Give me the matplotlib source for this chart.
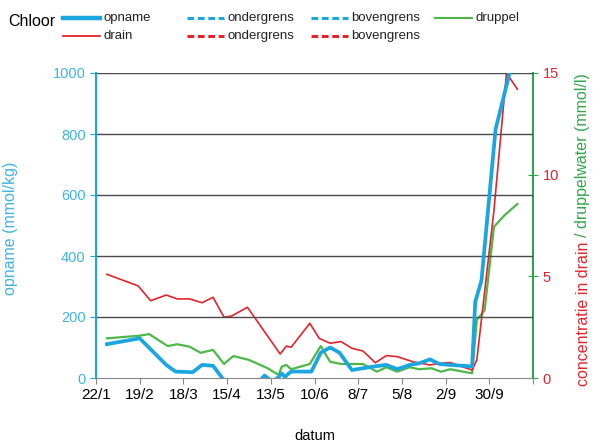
import matplotlib

matplotlib.use("Agg")
import matplotlib.pyplot as plt
import pandas as pd
from matplotlib.lines import Line2D

plt.rcParams["font.family"] = ["Liberation Sans", "DejaVu Sans"]

BLUE = "#1ca6e0"
BLUE_TEXT = "#3fb4e2"
RED = "#e3242b"
GREEN = "#4cb848"
GREEN_AXIS = "#2ea64a"
GRID = "#4a4a4a"

# opname (mmol/kg), left axis
opname_dates = [
    "2016-01-29", "2016-02-19", "2016-03-07", "2016-03-13", "2016-03-24", "2016-03-30",
    "2016-04-06", "2016-04-20", "2016-05-04", "2016-05-09", "2016-05-14", "2016-05-18",
    "2016-05-20", "2016-05-22", "2016-05-26", "2016-06-08", "2016-06-14", "2016-06-20",
    "2016-06-26", "2016-07-04", "2016-07-11", "2016-07-20", "2016-07-26", "2016-08-02",
    "2016-08-10", "2016-08-16", "2016-08-23", "2016-08-29", "2016-09-05", "2016-09-19",
    "2016-09-21", "2016-09-25", "2016-10-04", "2016-10-13",
]
opname = [
    111, 130, 43, 21, 19, 43,
    40, -55, -20, 8, -12, 3,
    15, 4, 21, 21, 83, 100,
    83, 26, 32, 39, 43, 29,
    43, 48, 61, 46, 43, 38,
    250, 320, 815, 1000,
]

# drain (mmol/l), right axis
drain_dates = [
    "2016-01-29", "2016-02-18", "2016-02-26", "2016-03-07", "2016-03-14", "2016-03-22",
    "2016-03-30", "2016-04-06", "2016-04-13", "2016-04-18", "2016-04-28", "2016-05-19",
    "2016-05-23", "2016-05-26", "2016-06-07", "2016-06-13", "2016-06-20", "2016-06-27",
    "2016-07-04", "2016-07-11", "2016-07-19", "2016-07-26", "2016-08-02", "2016-08-12",
    "2016-08-23", "2016-08-29", "2016-09-05", "2016-09-19", "2016-09-22", "2016-10-03",
    "2016-10-11", "2016-10-18",
]
drain = [
    5.10, 4.53, 3.80, 4.08, 3.89, 3.89,
    3.70, 3.97, 2.99, 3.05, 3.48, 1.18,
    1.57, 1.51, 2.69, 1.95, 1.71, 1.79,
    1.46, 1.33, 0.75, 1.10, 1.05, 0.80,
    0.64, 0.72, 0.76, 0.39, 0.89, 8.26,
    15.0, 14.2,
]

# druppelwater (mmol/l), right axis
druppel_dates = [
    "2016-01-29", "2016-02-19", "2016-02-25", "2016-03-08", "2016-03-14", "2016-03-22",
    "2016-03-29", "2016-04-06", "2016-04-13", "2016-04-19", "2016-04-29", "2016-05-11",
    "2016-05-18", "2016-05-20", "2016-05-23", "2016-05-26", "2016-06-07", "2016-06-14",
    "2016-06-20", "2016-06-27", "2016-07-11", "2016-07-20", "2016-07-26", "2016-08-02",
    "2016-08-10", "2016-08-16", "2016-08-24", "2016-08-30", "2016-09-05", "2016-09-19",
    "2016-09-22", "2016-09-27", "2016-10-03", "2016-10-10", "2016-10-18",
]
druppel = [
    1.95, 2.08, 2.16, 1.57, 1.66, 1.54,
    1.24, 1.38, 0.69, 1.08, 0.89, 0.48,
    0.15, 0.56, 0.64, 0.43, 0.69, 1.57,
    0.80, 0.69, 0.69, 0.31, 0.53, 0.31,
    0.53, 0.43, 0.48, 0.31, 0.43, 0.23,
    2.85, 3.34, 7.44, 8.02, 8.56,
]

x_start = "2016-01-22"
x_end = "2016-10-28"
tick_labels = ["22/1", "19/2", "18/3", "15/4", "13/5", "10/6", "8/7", "5/8", "2/9", "30/9", ""]
left_ticks = [0, 200, 400, 600, 800, 1000]
right_ticks = [0, 5, 10, 15]

legend_labels = [["opname", "drain"], ["ondergrens", "ondergrens"], ["bovengrens", "bovengrens"], ["druppel"]]


def draw_legend(fig):
    dash = (0, (2.2, 1.2))
    styles = [
        [dict(color=BLUE, lw=3.2), dict(color=RED, lw=1.3)],
        [dict(color=BLUE, lw=2.2, ls=dash), dict(color=RED, lw=2.2, ls=dash)],
        [dict(color=BLUE, lw=2.2, ls=dash), dict(color=RED, lw=2.2, ls=dash)],
        [dict(color=GREEN, lw=1.5)],
    ]
    col_x = [63, 187, 311, 435]
    row_y = [18, 36]
    for c, labels in enumerate(legend_labels):
        for r, label in enumerate(labels):
            x0 = col_x[c] / 597
            x1 = (col_x[c] + 37) / 597
            y = 1 - row_y[r] / 446
            fig.add_artist(Line2D([x0, x1], [y, y], transform=fig.transFigure, **styles[c][r]))
            fig.text(x1 + 3 / 597, y, label, fontsize=9.5, va="center", ha="left", color="#222222")
    fig.text(8 / 597, 1 - 22 / 446, "Chloor", fontsize=11.5, va="center", ha="left")


def main() -> None:
    fig = plt.figure(figsize=(5.97, 4.46), dpi=100)
    ax = fig.add_axes([96 / 597, 1 - 378 / 446, (533 - 96) / 597, (378 - 73) / 446])
    ax2 = ax.twinx()

    ax.plot(pd.to_datetime(opname_dates), opname, color=BLUE, lw=2.7, solid_joinstyle="round", zorder=4)
    ax2.plot(pd.to_datetime(drain_dates), drain, color=RED, lw=1.2, zorder=3)
    ax2.plot(pd.to_datetime(druppel_dates), druppel, color=GREEN, lw=1.6, zorder=2)
    ax.set_zorder(ax2.get_zorder() + 1)
    ax.patch.set_visible(False)

    xticks = pd.date_range(x_start, x_end, freq="28D")
    ax.set_xlim(pd.Timestamp(x_start), pd.Timestamp(x_end))
    ax.set_xticks(xticks)
    ax.set_xticklabels(tick_labels, fontsize=11)
    ax.set_ylim(0, 1000)
    ax.set_yticks(left_ticks)
    ax.tick_params(axis="y", colors=BLUE, labelcolor=BLUE_TEXT, labelsize=10.5, direction="out", length=4)
    ax.tick_params(axis="x", colors="#888888", labelcolor="black", direction="out", length=4, pad=3)
    ax.set_ylabel("opname (mmol/kg)", color=BLUE_TEXT, fontsize=11.5)
    ax.yaxis.set_label_coords(-(96 - 18) / 437, 0.49)
    ax.set_xlabel("datum", fontsize=10.5, labelpad=20)
    for v in left_ticks[1:]:
        ax.axhline(v, color=GRID, lw=1.0, zorder=0)

    ax2.set_ylim(0, 15)
    ax2.set_yticks(right_ticks)
    ax2.tick_params(axis="y", colors=GREEN_AXIS, labelcolor=RED, labelsize=10.5, direction="inout", length=7)

    for a in (ax, ax2):
        for side in ("top", "left", "right", "bottom"):
            a.spines[side].set_visible(False)
    ax.spines["left"].set_visible(True)
    ax.spines["left"].set_color(BLUE)
    ax.spines["left"].set_linewidth(1.5)
    ax.spines["bottom"].set_visible(True)
    ax.spines["bottom"].set_color("#888888")
    ax2.spines["right"].set_visible(True)
    ax2.spines["right"].set_color(GREEN_AXIS)
    ax2.spines["right"].set_linewidth(1.5)

    # right axis label in two colours
    renderer = fig.canvas.get_renderer()
    red_part = fig.text(583 / 597, 1 - 386 / 446, "concentratie in drain ", rotation=90,
                        color=RED, fontsize=11.5, ha="center", va="bottom")
    bb = red_part.get_window_extent(renderer).transformed(fig.transFigure.inverted())
    fig.text(583 / 597, bb.y1, "/ druppelwater (mmol/l)", rotation=90,
             color=GREEN_AXIS, fontsize=11.5, ha="center", va="bottom")

    draw_legend(fig)
    fig.savefig("out.png", dpi=100)
    plt.close(fig)


if __name__ == "__main__":
    main()
